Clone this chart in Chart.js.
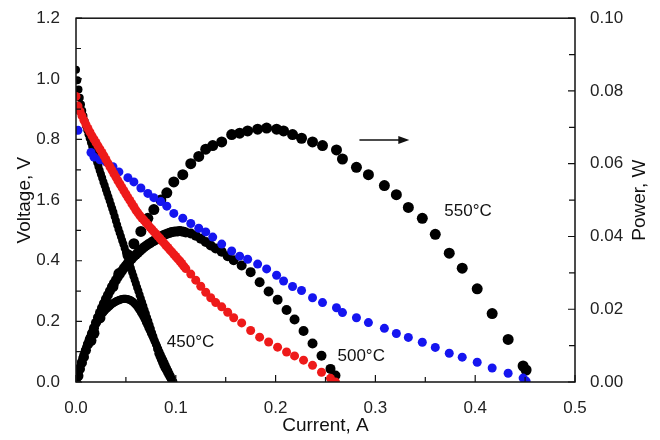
<!DOCTYPE html>
<html>
<head>
<meta charset="utf-8">
<script src="https://cdn.jsdelivr.net/npm/chart.js@4.4.1/dist/chart.umd.min.js"></script>
<style>
  html, body { margin: 0; padding: 0; background: #fff; }
  #wrap { width: 660px; height: 440px; }
</style>
</head>
<body>
<div id="wrap"><canvas id="ivChart" width="660" height="440"></canvas></div>
<script>
// 450 C cell: very dense sweep
const i450 = [0, 0.00125, 0.0025, 0.00375, 0.005, 0.00625, 0.0075, 0.00875, 0.01, 0.01125, 0.0125, 0.01375, 0.015, 0.01625, 0.0175, 0.01875, 0.02, 0.02125, 0.0225, 0.02375, 0.025, 0.02625, 0.0275, 0.02875, 0.03, 0.03125, 0.0325, 0.03375, 0.035, 0.03625, 0.0375, 0.03875, 0.04, 0.04125, 0.0425, 0.04375, 0.045, 0.04625, 0.0475, 0.04875, 0.05, 0.05125, 0.0525, 0.05375, 0.055, 0.05625, 0.0575, 0.05875, 0.06, 0.06125, 0.0625, 0.06375, 0.065, 0.06625, 0.0675, 0.06875, 0.07, 0.07125, 0.0725, 0.07375, 0.075, 0.07625, 0.0775, 0.07875, 0.08, 0.08125, 0.0825, 0.08375, 0.085, 0.08625, 0.0875, 0.08875, 0.09, 0.09125, 0.0925, 0.09375, 0.095, 0.09625, 0.0975];
const v450 = [1.03, 0.995, 0.965, 0.938, 0.915, 0.895, 0.877, 0.860, 0.845, 0.831, 0.817, 0.804, 0.790, 0.777, 0.763, 0.750, 0.736, 0.724, 0.711, 0.698, 0.685, 0.673, 0.660, 0.648, 0.635, 0.623, 0.610, 0.598, 0.585, 0.572, 0.560, 0.546, 0.532, 0.518, 0.505, 0.492, 0.480, 0.467, 0.455, 0.442, 0.430, 0.415, 0.400, 0.388, 0.375, 0.362, 0.350, 0.337, 0.325, 0.312, 0.300, 0.287, 0.275, 0.262, 0.250, 0.237, 0.225, 0.212, 0.200, 0.187, 0.175, 0.162, 0.150, 0.137, 0.125, 0.110, 0.095, 0.085, 0.075, 0.065, 0.055, 0.047, 0.040, 0.032, 0.025, 0.017, 0.010, 0.005, 0.0];
const p450 = [0, 0.0014, 0.0028, 0.0041, 0.0054, 0.0065, 0.0075, 0.0085, 0.0095, 0.0105, 0.0114, 0.0122, 0.013, 0.0138, 0.0146, 0.0153, 0.016, 0.0166, 0.0172, 0.0178, 0.0183, 0.0188, 0.0192, 0.0196, 0.02, 0.0203, 0.0206, 0.0209, 0.0212, 0.0215, 0.0217, 0.0219, 0.0221, 0.0223, 0.0224, 0.0226, 0.0227, 0.0228, 0.0229, 0.0229, 0.0229, 0.0228, 0.0227, 0.0226, 0.0224, 0.0222, 0.0219, 0.0216, 0.0212, 0.0208, 0.0203, 0.0198, 0.0192, 0.0186, 0.018, 0.0173, 0.0165, 0.0158, 0.015, 0.0143, 0.0135, 0.0128, 0.012, 0.0113, 0.0105, 0.0098, 0.009, 0.0082, 0.0074, 0.0067, 0.006, 0.0052, 0.0045, 0.0037, 0.003, 0.0023, 0.0016, 0.0008, 0.0];

// 500 C cell: dense at low current, sparser further on
const i500 = [0, 0.002, 0.004, 0.006, 0.008, 0.010, 0.012, 0.014, 0.016, 0.018, 0.020, 0.022, 0.024, 0.026, 0.028, 0.030, 0.032, 0.034, 0.036, 0.038, 0.040, 0.042, 0.044, 0.046, 0.048, 0.050, 0.052, 0.054, 0.056, 0.058, 0.060, 0.062, 0.064, 0.066, 0.068, 0.070, 0.072, 0.074, 0.076, 0.078, 0.080, 0.082, 0.084, 0.086, 0.088, 0.090, 0.092, 0.094, 0.096, 0.098, 0.100, 0.102, 0.104, 0.106, 0.108, 0.110, 0.115, 0.120, 0.125, 0.130, 0.135, 0.140, 0.146, 0.152, 0.158, 0.166, 0.175, 0.184, 0.193, 0.202, 0.211, 0.219, 0.228, 0.237, 0.246, 0.255, 0.260];
const v500 = [0.942, 0.910, 0.893, 0.878, 0.863, 0.849, 0.836, 0.824, 0.812, 0.801, 0.790, 0.779, 0.768, 0.757, 0.746, 0.734, 0.722, 0.710, 0.699, 0.687, 0.676, 0.664, 0.653, 0.642, 0.631, 0.620, 0.609, 0.599, 0.588, 0.578, 0.567, 0.558, 0.549, 0.541, 0.534, 0.526, 0.519, 0.511, 0.504, 0.496, 0.489, 0.481, 0.474, 0.466, 0.459, 0.451, 0.444, 0.436, 0.429, 0.421, 0.414, 0.406, 0.399, 0.391, 0.382, 0.374, 0.356, 0.336, 0.316, 0.296, 0.278, 0.262, 0.248, 0.230, 0.212, 0.195, 0.170, 0.148, 0.132, 0.115, 0.099, 0.086, 0.072, 0.055, 0.032, 0.012, 0.0];
const p500 = [0, 0.0018, 0.0036, 0.0053, 0.0069, 0.0087, 0.0103, 0.0118, 0.0133, 0.0148, 0.0163, 0.0177, 0.019, 0.0203, 0.0216, 0.0228, 0.0239, 0.025, 0.0261, 0.0271, 0.028, 0.0289, 0.0297, 0.0305, 0.0313, 0.032, 0.0327, 0.0333, 0.0339, 0.0345, 0.035, 0.0355, 0.036, 0.0365, 0.037, 0.0374, 0.0378, 0.0381, 0.0385, 0.0388, 0.0391, 0.0394, 0.0398, 0.0401, 0.0404, 0.0406, 0.0408, 0.041, 0.0412, 0.0413, 0.0414, 0.0414, 0.0415, 0.0414, 0.0413, 0.0411, 0.0408, 0.0402, 0.0394, 0.0385, 0.0375, 0.0367, 0.0358, 0.0346, 0.0335, 0.032, 0.0302, 0.0274, 0.0249, 0.0226, 0.0198, 0.0172, 0.014, 0.0106, 0.0072, 0.0036, 0.0018];

// 550 C cell
const i550 = [0.002, 0.015, 0.018, 0.024, 0.030, 0.037, 0.043, 0.052, 0.058, 0.065, 0.072, 0.078, 0.085, 0.091, 0.098, 0.107, 0.115, 0.123, 0.130, 0.137, 0.146, 0.156, 0.164, 0.172, 0.182, 0.191, 0.201, 0.208, 0.217, 0.226, 0.237, 0.247, 0.261, 0.267, 0.281, 0.293, 0.309, 0.321, 0.333, 0.347, 0.360, 0.374, 0.387, 0.402, 0.417, 0.433, 0.448, 0.451];
const v550 = [0.83, 0.757, 0.742, 0.733, 0.726, 0.71, 0.693, 0.674, 0.66, 0.64, 0.622, 0.608, 0.595, 0.58, 0.556, 0.54, 0.523, 0.507, 0.495, 0.478, 0.455, 0.432, 0.415, 0.405, 0.389, 0.373, 0.352, 0.333, 0.315, 0.302, 0.278, 0.262, 0.245, 0.229, 0.212, 0.196, 0.177, 0.16, 0.147, 0.131, 0.114, 0.095, 0.082, 0.065, 0.046, 0.029, 0.013, 0.003];
const p550 = [0.0017, 0.0114, 0.0134, 0.0176, 0.0218, 0.0262, 0.0298, 0.035, 0.038, 0.0414, 0.045, 0.0474, 0.050, 0.052, 0.055, 0.057, 0.060, 0.062, 0.064, 0.065, 0.066, 0.068, 0.0684, 0.069, 0.0695, 0.0698, 0.0695, 0.069, 0.068, 0.067, 0.066, 0.065, 0.0638, 0.0613, 0.059, 0.057, 0.054, 0.0515, 0.048, 0.045, 0.0406, 0.0354, 0.0313, 0.0256, 0.0188, 0.0117, 0.0044, 0.0033];

// tick labels (the left axis really reads "1.6" at 0.6 in the original)
const xTickLabels = ['0.0', '0.1', '0.2', '0.3', '0.4', '0.5'];
const vTickLabels = ['0.0', '0.2', '0.4', '1.6', '0.8', '1.0', '1.2'];
const pTickLabels = ['0.00', '0.02', '0.04', '0.06', '0.08', '0.10'];

// text labels placed in data units: [text, current, value, axis]
const curveLabels = [
    ['550°C', 0.369, 0.0469, 'y2'],
    ['500°C', 0.262, 0.085, 'y'],
    ['450°C', 0.091, 0.131, 'y'],
];
const arrowFrom = [0.284, 0.0665];
const arrowTo = [0.334, 0.0665];

const pts = (xs, ys) => xs.map((x, k) => ({ x: x, y: ys[k] }));
const FONT = '"Liberation Sans", Arial, Helvetica, sans-serif';

const frameTicks = {
    id: 'frameTicks',
    afterDraw(chart) {
        const { ctx, chartArea: a, scales } = chart;
        ctx.save();
        ctx.strokeStyle = '#111';
        ctx.lineWidth = 1.5;
        ctx.strokeRect(a.left, a.top, a.right - a.left, a.bottom - a.top);
        ctx.lineWidth = 1.2;
        ctx.beginPath();
        // inward ticks, majors and minors
        for (let k = 0; k <= 10; k++) {
            const px = scales.x.getPixelForValue(k * 0.05);
            ctx.moveTo(px, a.bottom); ctx.lineTo(px, a.bottom - (k % 2 ? 5 : 7));
        }
        for (let k = 0; k <= 12; k++) {
            const py = scales.y.getPixelForValue(k * 0.1);
            ctx.moveTo(a.left, py); ctx.lineTo(a.left + (k % 2 ? 5 : 6), py);
        }
        for (let k = 0; k <= 10; k++) {
            const py = scales.y2.getPixelForValue(k * 0.01);
            ctx.moveTo(a.right, py); ctx.lineTo(a.right - (k % 2 ? 6 : 7), py);
        }
        ctx.stroke();

        // axis titles
        ctx.fillStyle = '#111';
        ctx.font = '19px ' + FONT;
        ctx.textAlign = 'center';
        ctx.textBaseline = 'middle';
        ctx.fillText('Current, A', (a.left + a.right) / 2, a.bottom + 44);
        const midY = (a.top + a.bottom) / 2;
        ctx.save();
        ctx.translate(a.left - 51, midY);
        ctx.rotate(-Math.PI / 2);
        ctx.fillText('Voltage, V', 0, 0);
        ctx.restore();
        ctx.save();
        ctx.translate(a.right + 65, midY);
        ctx.rotate(-Math.PI / 2);
        ctx.fillText('Power, W', 0, 0);
        ctx.restore();

        // curve labels
        ctx.font = '17px ' + FONT;
        ctx.textAlign = 'left';
        curveLabels.forEach(([txt, cx, cy, ax]) => {
            ctx.fillText(txt, scales.x.getPixelForValue(cx), scales[ax].getPixelForValue(cy));
        });

        // arrow pointing at the power axis
        const x0 = scales.x.getPixelForValue(arrowFrom[0]);
        const x1 = scales.x.getPixelForValue(arrowTo[0]);
        const ya = scales.y2.getPixelForValue(arrowFrom[1]);
        ctx.lineWidth = 1.5;
        ctx.beginPath();
        ctx.moveTo(x0, ya); ctx.lineTo(x1 - 8, ya);
        ctx.stroke();
        ctx.beginPath();
        ctx.moveTo(x1, ya); ctx.lineTo(x1 - 11, ya - 4); ctx.lineTo(x1 - 11, ya + 4);
        ctx.closePath();
        ctx.fill();
        ctx.restore();
    }
};

new Chart(document.querySelector('#ivChart'), {
    type: 'scatter',
    data: {
        datasets: [
            { data: pts(i500, v500), yAxisID: 'y', backgroundColor: '#ee1a1a', pointRadius: 4.5 },
            { data: pts(i550, v550), yAxisID: 'y', backgroundColor: '#1515f0', pointRadius: 4.5 },
            { data: pts(i450, v450), yAxisID: 'y', backgroundColor: '#000', pointRadius: 4 },
            { data: pts(i450, p450), yAxisID: 'y2', backgroundColor: '#000', pointRadius: 4 },
            { data: pts(i500, p500), yAxisID: 'y2', backgroundColor: '#000', pointRadius: 5 },
            { data: pts(i550, p550), yAxisID: 'y2', backgroundColor: '#000', pointRadius: 5.5 },
        ]
    },
    options: {
        responsive: false,
        animation: false,
        layout: { padding: { top: 15 } },
        elements: { point: { borderWidth: 0, hoverRadius: 5 } },
        plugins: { legend: { display: false }, tooltip: { enabled: false } },
        scales: {
            x: {
                type: 'linear', min: 0, max: 0.5,
                grid: { display: false }, border: { display: false },
                ticks: {
                    stepSize: 0.1, padding: 8, color: '#222',
                    font: { family: FONT, size: 17 },
                    callback: (v) => xTickLabels[Math.round(v * 10)]
                },
                afterFit: (s) => { s.height = 58; }
            },
            y: {
                type: 'linear', position: 'left', min: 0, max: 1.2,
                grid: { display: false }, border: { display: false },
                ticks: {
                    stepSize: 0.2, padding: 8, color: '#222',
                    font: { family: FONT, size: 17 },
                    callback: (v) => vTickLabels[Math.round(v * 5)]
                },
                afterFit: (s) => { s.width = 76; }
            },
            y2: {
                type: 'linear', position: 'right', min: 0, max: 0.1,
                grid: { display: false }, border: { display: false },
                ticks: {
                    stepSize: 0.02, padding: 7, color: '#222',
                    font: { family: FONT, size: 17 },
                    callback: (v) => pTickLabels[Math.round(v * 50)]
                },
                afterFit: (s) => { s.width = 85; }
            }
        }
    },
    plugins: [frameTicks]
});
</script>
</body>
</html>
